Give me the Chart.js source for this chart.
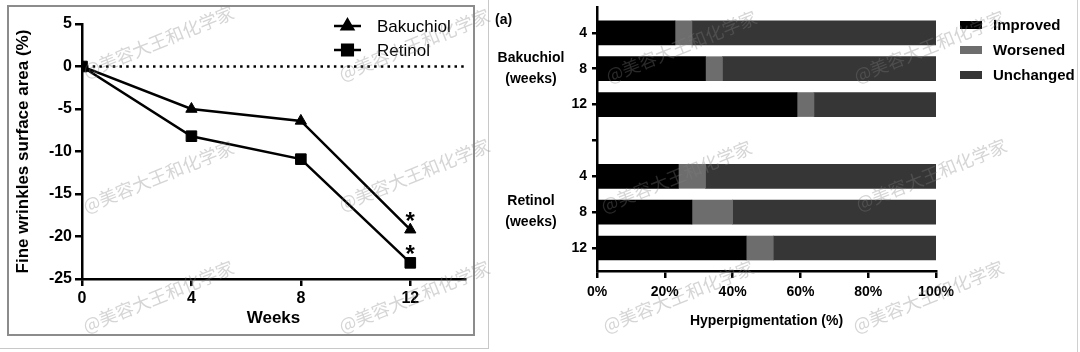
<!DOCTYPE html>
<html><head><meta charset="utf-8">
<script src="https://cdn.jsdelivr.net/npm/chart.js@4/dist/chart.umd.min.js"></script>
<style>
html,body{margin:0;padding:0;background:#fff;}
#wrap{position:relative;width:1080px;height:352px;overflow:hidden;background:#fff;}
.frame{position:absolute;box-sizing:border-box;}
canvas{position:absolute;top:0;}
#c1{left:0;}
#c2{left:490px;}
.wm{position:absolute;font-family:"Noto Sans CJK SC",sans-serif;font-size:18px;line-height:20px;color:rgba(128,128,128,0.33);transform-origin:0 100%;transform:rotate(-22deg);white-space:nowrap;pointer-events:none;}
</style></head>
<body><div id="wrap">
<div class="frame" style="left:-1px;top:-1px;width:490px;height:350px;border:1px solid #c8c8c8;"></div>
<div class="frame" style="left:7px;top:5px;width:468px;height:331px;border:2px solid #8c8c8c;"></div>
<div class="frame" style="left:1077px;top:0;width:1px;height:352px;background:#d0d0d0;"></div>
<canvas id="c1" width="490" height="352"></canvas>
<canvas id="c2" width="590" height="352"></canvas>
<div id="wms"></div>
</div>
<script>
// ---- Left panel data ----
const weeks = [0, 4, 8, 12];
const bakuchiol = [0, -5.0, -6.4, -19.2];
const retinol = [0, -8.2, -10.9, -23.1];
const significant = [false, false, false, true];

// ---- Right panel data ----
const rowLabels = ['4', '8', '12', '', '4', '8', '12'];
const groupLabels = ['Bakuchiol', 'Retinol'];
const groupRows = [1, 5];
const improved = [23, 32, 59, null, 24, 28, 44];
const worsened = [5, 5, 5, null, 8, 12, 8];
const unchanged = [72, 63, 36, null, 68, 60, 48];

const watermarkText = '@美容大王和化学家';

const FONT = "'Liberation Sans', Arial, Helvetica, sans-serif";
Chart.defaults.font.family = FONT;
Chart.defaults.color = '#000';

const toXY = (xs, ys) => xs.map((x, i) => ({x: x, y: ys[i]}));
const toBars = vals => vals.map((v, i) => v == null ? null : ({x: v, y: i})).filter(Boolean);

const zeroLine = {
  id: 'zeroLine',
  beforeDatasetsDraw(chart) {
    const {ctx, chartArea, scales} = chart;
    const y = scales.y.getPixelForValue(0);
    ctx.save();
    ctx.strokeStyle = '#000';
    ctx.lineWidth = 2.5;
    ctx.setLineDash([2.5, 4.2]);
    ctx.beginPath();
    ctx.moveTo(chartArea.left + 4, y);
    ctx.lineTo(chartArea.right, y);
    ctx.stroke();
    ctx.restore();
  }
};

const asterisks = {
  id: 'asterisks',
  afterDatasetsDraw(chart) {
    const {ctx} = chart;
    ctx.save();
    ctx.fillStyle = '#000';
    ctx.font = "bold 24px " + FONT;
    ctx.textAlign = 'center';
    ctx.textBaseline = 'alphabetic';
    chart.data.datasets.forEach((ds, di) => {
      const meta = chart.getDatasetMeta(di);
      meta.data.forEach((pt, i) => {
        if (significant[i]) ctx.fillText('*', pt.x, pt.y - 1);
      });
    });
    ctx.restore();
  }
};

const lineLegend = {
  id: 'lineLegend',
  afterDraw(chart) {
    const {ctx} = chart;
    ctx.save();
    chart.data.datasets.forEach((ds, i) => {
      const y = 26 + i * 24;
      ctx.strokeStyle = '#000';
      ctx.lineWidth = 2.5;
      ctx.beginPath();
      ctx.moveTo(334, y);
      ctx.lineTo(361, y);
      ctx.stroke();
      ctx.fillStyle = '#000';
      Chart.helpers.drawPoint(ctx, {pointStyle: ds.pointStyle, radius: ds.pointRadius, borderWidth: 1, rotation: 0}, 347.5, y);
      ctx.fillStyle = '#000';
      ctx.font = "17px " + FONT;
      ctx.textAlign = 'left';
      ctx.textBaseline = 'middle';
      ctx.fillText(ds.label, 377, y + 1);
    });
    ctx.restore();
  }
};

const axisCommon = {
  border: {color: '#000', width: 2.5},
  grid: {drawOnChartArea: false, drawTicks: true, color: '#000', lineWidth: 2.5}
};

new Chart(document.getElementById('c1'), {
  type: 'line',
  data: {
    datasets: [
      {label: 'Bakuchiol', data: toXY(weeks, bakuchiol), borderColor: '#000', backgroundColor: '#000',
       borderWidth: 2.5, pointStyle: 'triangle', pointRadius: 6.5, pointBorderWidth: 1, tension: 0, order: 1},
      {label: 'Retinol', data: toXY(weeks, retinol), borderColor: '#000', backgroundColor: '#000',
       borderWidth: 2.5, pointStyle: 'rect', pointRadius: 7.5, pointBorderWidth: 1, tension: 0, order: 0}
    ]
  },
  options: {
    responsive: false, animation: false, devicePixelRatio: 1,
    layout: {padding: {left: 0, top: 24, right: 25, bottom: 0}},
    plugins: {legend: {display: false}, tooltip: {enabled: false}},
    scales: {
      x: {
        type: 'linear', min: 0, max: 14,
        afterBuildTicks: s => { s.ticks = weeks.map(v => ({value: v})); },
        afterFit: s => { s.height = 73; },
        border: axisCommon.border,
        grid: Object.assign({tickLength: 7}, axisCommon.grid),
        ticks: {font: {size: 16, weight: 'bold'}, color: '#000', padding: 3, maxRotation: 0},
        title: {display: true, text: 'Weeks', color: '#000', font: {size: 17, weight: 'bold'}, padding: {top: 0, bottom: 23}}
      },
      y: {
        min: -25, max: 5,
        afterFit: s => { s.width = 82; },
        border: axisCommon.border,
        grid: Object.assign({tickLength: 7}, axisCommon.grid),
        ticks: {stepSize: 5, font: {size: 16, weight: 'bold'}, color: '#000', padding: 3},
        title: {display: true, text: 'Fine wrinkles surface area (%)', color: '#000', font: {size: 17, weight: 'bold'}, padding: {top: 13, bottom: 0}}
      }
    }
  },
  plugins: [zeroLine, asterisks, lineLegend]
});

const barDecor = {
  id: 'barDecor',
  afterDraw(chart) {
    const {ctx, scales} = chart;
    ctx.save();
    ctx.fillStyle = '#000';
    ctx.font = "bold 14px " + FONT;
    ctx.textBaseline = 'middle';
    ctx.textAlign = 'left';
    ctx.fillText('(a)', 5, 20);
    ctx.textAlign = 'center';
    groupLabels.forEach((g, i) => {
      const y = scales.y.getPixelForValue(groupRows[i]);
      ctx.fillText(g, 41, y - 11);
      ctx.fillText('(weeks)', 41, y + 10);
    });
    // legend
    ctx.font = "bold 15px " + FONT;
    ctx.textAlign = 'left';
    chart.data.datasets.forEach((ds, i) => {
      const y = 25 + i * 25;
      ctx.fillStyle = ds.backgroundColor;
      ctx.fillRect(470, y - 4, 22, 8);
      ctx.fillStyle = '#000';
      ctx.fillText(ds.label, 503, y + 1);
    });
    ctx.restore();
  }
};

new Chart(document.getElementById('c2'), {
  type: 'bar',
  data: {
    datasets: [
      {label: 'Improved', data: toBars(improved), backgroundColor: '#000000'},
      {label: 'Worsened', data: toBars(worsened), backgroundColor: '#6d6d6d'},
      {label: 'Unchanged', data: toBars(unchanged), backgroundColor: '#363636'}
    ]
  },
  options: {
    indexAxis: 'y',
    responsive: false, animation: false, devicePixelRatio: 1,
    layout: {padding: {left: 0, top: 7, right: 144, bottom: 0}},
    datasets: {bar: {barThickness: 24, borderWidth: 0}},
    plugins: {legend: {display: false}, tooltip: {enabled: false}},
    scales: {
      x: {
        type: 'linear', stacked: true, min: 0, max: 100,
        afterFit: s => { s.height = 81; },
        border: axisCommon.border,
        grid: Object.assign({tickLength: 7}, axisCommon.grid),
        ticks: {stepSize: 20, callback: v => v + '%', font: {size: 14, weight: 'bold'}, color: '#000', padding: 6, maxRotation: 0},
        title: {display: true, text: 'Hyperpigmentation (%)', color: '#000', font: {size: 14, weight: 'bold'}, padding: {top: 0, bottom: 22}}
      },
      y: {
        type: 'linear', stacked: true, reverse: true, offset: false, min: -0.72, max: 6.64,
        afterBuildTicks: s => { s.ticks = rowLabels.map((_, i) => ({value: i})); },
        afterFit: s => { s.width = 107; s.paddingTop = 0; s.paddingBottom = 0; },
        border: axisCommon.border,
        grid: Object.assign({tickLength: 5, offset: false}, axisCommon.grid),
        ticks: {callback: v => rowLabels[v], font: {size: 14, weight: 'bold'}, color: '#000', padding: 5, autoSkip: false}
      }
    }
  },
  plugins: [barDecor]
});

// watermarks
const wmPos = [[87,80],[343,83],[610,85],[858,85],[87,215],[343,213],[605,215],[860,213],[87,335],[343,335],[607,335],[857,335]];
const wms = document.getElementById('wms');
wmPos.forEach(p => {
  const d = document.createElement('div');
  d.className = 'wm';
  d.textContent = watermarkText;
  d.style.left = p[0] + 'px';
  d.style.top = (p[1] - 20) + 'px';
  wms.appendChild(d);
});
</script>
</body></html>
